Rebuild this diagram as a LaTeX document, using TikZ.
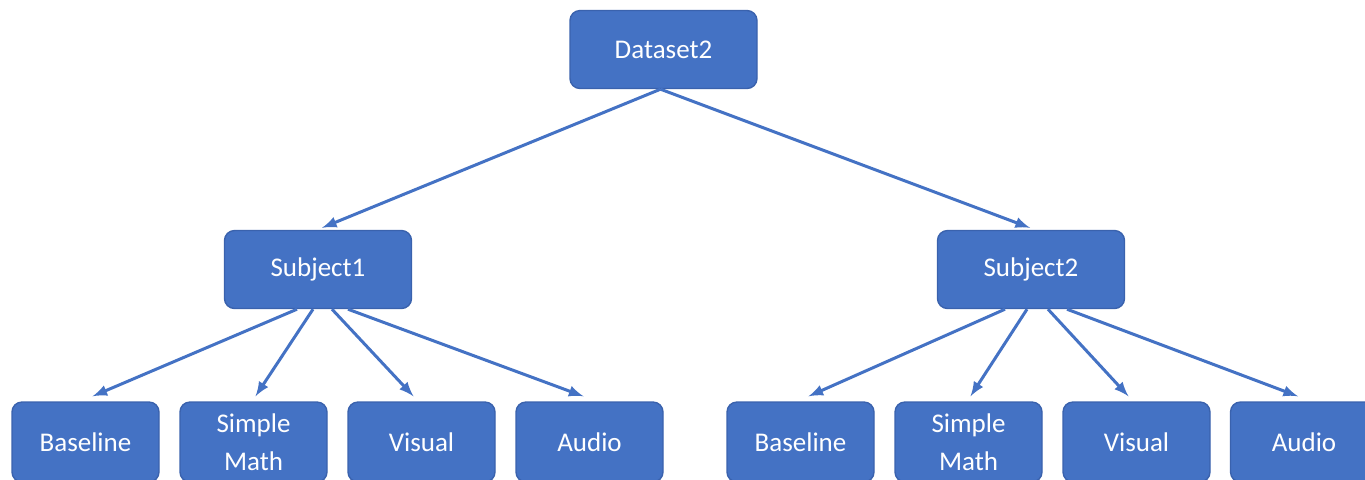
\documentclass[tikz,border=0pt]{standalone}
\usepackage{fontspec}
\setmainfont{Carlito}
\definecolor{boxfill}{HTML}{4472C4}
\definecolor{boxline}{HTML}{3A62AD}
\tikzset{
	boite/.style={draw=boxline,line width=0.7pt,fill=boxfill,rounded corners=5pt,text=white,align=center,font=\fontsize{13.5}{19}\selectfont,inner sep=0pt},
	haut/.style={boite,minimum width=93.5pt,minimum height=39pt},
	bas/.style={boite,minimum width=73.5pt,minimum height=40pt},
	fleche/.style={line width=1.5pt,boxfill,->,>=latex}
}
\begin{document}
\begin{tikzpicture}[x=0.5pt,y=-0.5pt]
	\useasboundingbox (0,0) rectangle (1365,479) ;
	\node[haut] (Dataset) at (663.5,49.5) {Dataset2} ;
	\node[haut] (SubjectA) at (318,269.5) {Subject1} ;
	\node[haut] (SubjectB) at (1031,269.5) {Subject2} ;
	\node[bas] (BaselineA) at (85.5,442) {Baseline} ;
	\node[bas] (MathA) at (253.5,442) {Simple\\Math} ;
	\node[bas] (VisualA) at (421.5,442) {Visual} ;
	\node[bas] (AudioA) at (589.5,442) {Audio} ;
	\node[bas] (BaselineB) at (800.5,442) {Baseline} ;
	\node[bas] (MathB) at (968.5,442) {Simple\\Math} ;
	\node[bas] (VisualB) at (1136.5,442) {Visual} ;
	\node[bas] (AudioB) at (1304,442) {Audio} ;
	\draw[fleche] ([xshift=-1.5pt]Dataset.south) -- ([xshift=2pt,yshift=1pt]SubjectA.north) ;
	\draw[fleche] ([xshift=-1.5pt]Dataset.south) -- ([xshift=-0.5pt,yshift=1pt]SubjectB.north) ;
	\draw[fleche] ([xshift=-10.5pt]SubjectA.south) -- ([xshift=3.5pt,yshift=2.5pt]BaselineA.north) ;
	\draw[fleche] ([xshift=-2.5pt]SubjectA.south) -- ([xshift=1pt,yshift=2.5pt]MathA.north) ;
	\draw[fleche] ([xshift=7pt]SubjectA.south) -- ([xshift=-4pt,yshift=2.5pt]VisualA.north) ;
	\draw[fleche] ([xshift=15pt]SubjectA.south) -- ([xshift=-3pt,yshift=2.5pt]AudioA.north) ;
	\draw[fleche] ([xshift=-13pt]SubjectB.south) -- ([xshift=4pt,yshift=2.5pt]BaselineB.north) ;
	\draw[fleche] ([xshift=-2pt]SubjectB.south) -- ([xshift=1pt,yshift=2.5pt]MathB.north) ;
	\draw[fleche] ([xshift=8.5pt]SubjectB.south) -- ([xshift=-4pt,yshift=2.5pt]VisualB.north) ;
	\draw[fleche] ([xshift=18pt]SubjectB.south) -- ([xshift=-3pt,yshift=2.5pt]AudioB.north) ;
\end{tikzpicture}
\end{document}
